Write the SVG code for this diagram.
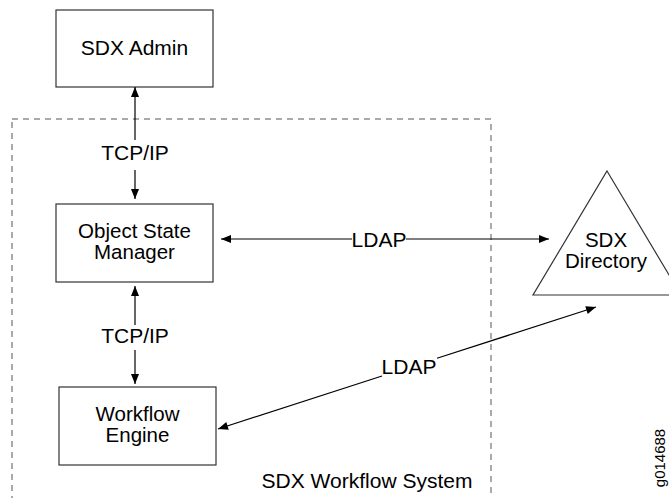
<svg xmlns="http://www.w3.org/2000/svg" width="669" height="498" viewBox="0 0 669 498">
<defs>
<marker id="ah" viewBox="0 0 10 8" refX="10" refY="4" markerWidth="11" markerHeight="8" markerUnits="userSpaceOnUse" orient="auto-start-reverse">
<path d="M0,0 L10,4 L0,8 Z" fill="#000"/>
</marker>
<style>
.box{fill:#fff;stroke:#333;stroke-width:1.2}
.t{font-family:"Liberation Sans",Arial,sans-serif;font-size:21px;fill:#000;text-anchor:middle}
.t2{font-family:"Liberation Sans",Arial,sans-serif;font-size:20.5px;fill:#000;text-anchor:middle}
.ln{stroke:#000;stroke-width:1.2;fill:none}
</style>
</defs>
<rect width="669" height="498" fill="#fff"/>
<g id="system">
<rect x="12" y="119" width="479" height="400" fill="none" stroke="#555" stroke-width="1" stroke-dasharray="6 5"/>
<text class="t" x="367" y="488">SDX Workflow System</text>
</g>
<g id="admin">
<rect class="box" x="56" y="10" width="157" height="77"/>
<text class="t" x="134.5" y="55">SDX Admin</text>
</g>
<g id="osm">
<rect class="box" x="56" y="204" width="157" height="78"/>
<text class="t2" x="134.5" y="238">Object State</text>
<text class="t2" x="134.5" y="259">Manager</text>
</g>
<g id="engine">
<rect class="box" x="59" y="387" width="157" height="78"/>
<text class="t2" x="137.5" y="421">Workflow</text>
<text class="t2" x="137.5" y="442">Engine</text>
</g>
<g id="directory">
<polygon points="607,171 681,295 533,295" fill="#fff" stroke="#333" stroke-width="1.2"/>
<text class="t2" x="606" y="247">SDX</text>
<text class="t2" x="606" y="268">Directory</text>
</g>
<g id="connectors">
<line class="ln" x1="135" y1="140" x2="135" y2="87" marker-end="url(#ah)"/>
<line class="ln" x1="135" y1="170" x2="135" y2="199" marker-end="url(#ah)"/>
<text class="t" x="135" y="160">TCP/IP</text>
<line class="ln" x1="135" y1="325" x2="135" y2="286" marker-end="url(#ah)"/>
<line class="ln" x1="135" y1="350" x2="135" y2="384" marker-end="url(#ah)"/>
<text class="t" x="135" y="343">TCP/IP</text>
<line class="ln" x1="352" y1="239" x2="221" y2="239" marker-end="url(#ah)"/>
<line class="ln" x1="406" y1="239" x2="549" y2="239" marker-end="url(#ah)"/>
<text class="t" x="379" y="247">LDAP</text>
<line class="ln" x1="382" y1="376" x2="218" y2="429" marker-end="url(#ah)"/>
<line class="ln" x1="437" y1="358.3" x2="596" y2="307" marker-end="url(#ah)"/>
<text class="t" x="409" y="374">LDAP</text>
</g>
<text x="665" y="458" transform="rotate(-90 665 458)" font-family="Liberation Sans,Arial,sans-serif" font-size="15" text-anchor="middle">g014688</text>
</svg>
